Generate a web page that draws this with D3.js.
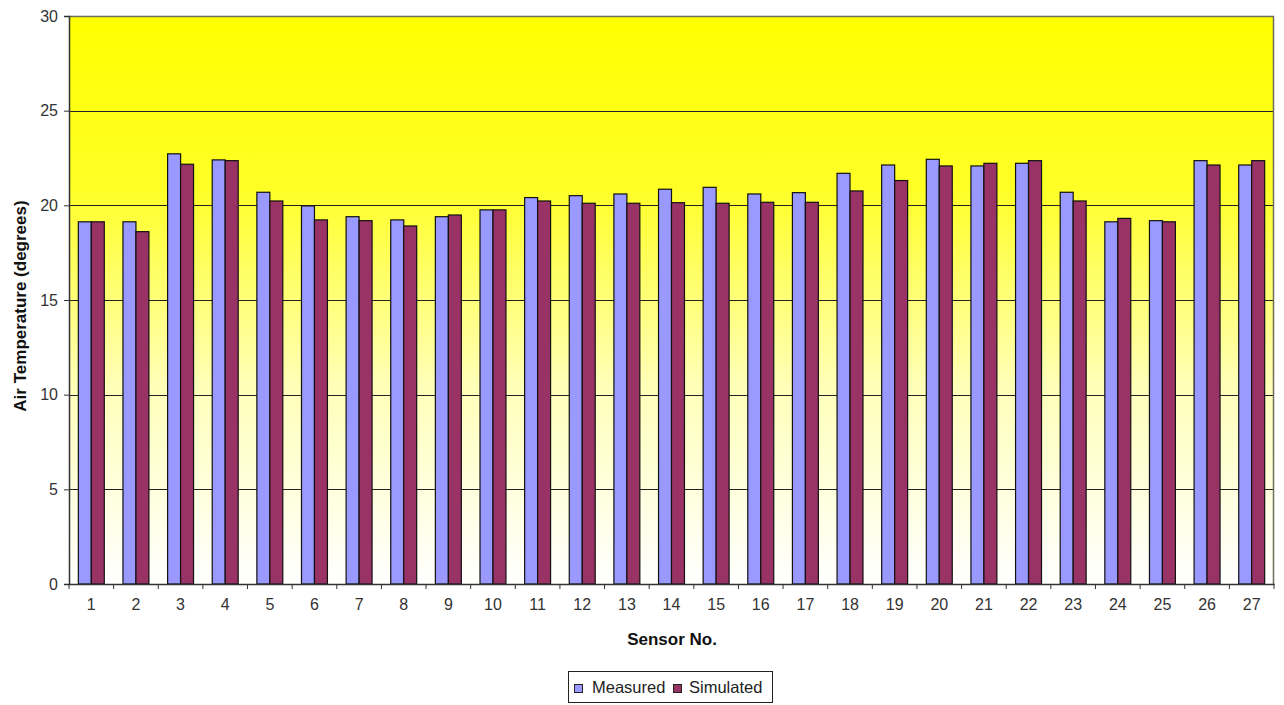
<!DOCTYPE html>
<html>
<head>
<meta charset="utf-8">
<script src="https://cdn.jsdelivr.net/npm/d3@7"></script>
<style>
  html, body { margin: 0; padding: 0; background: #ffffff; }
  svg { display: block; font-family: "Liberation Sans", Arial, sans-serif; }
</style>
</head>
<body>
<svg id="chart" width="1284" height="705"></svg>
<script>
// Sensor numbers along the x axis
const sensors = d3.range(1, 28).map(String);

// Air temperature per sensor (degrees)
const measured = [19.13, 19.13, 22.72, 22.40, 20.69, 19.97, 19.40, 19.23, 19.40,
                  19.76, 20.41, 20.51, 20.60, 20.85, 20.95, 20.60, 20.67, 21.69,
                  22.13, 22.43, 22.08, 22.22, 20.69, 19.13, 19.19, 22.36, 22.13];
const simulated = [19.13, 18.61, 22.17, 22.36, 20.23, 19.23, 19.19, 18.91, 19.49,
                   19.76, 20.23, 20.11, 20.11, 20.14, 20.11, 20.16, 20.16, 20.76,
                   21.31, 22.08, 22.22, 22.36, 20.23, 19.31, 19.13, 22.13, 22.36];

const seriesNames = ["Measured", "Simulated"];
const seriesColors = ["#9999ff", "#993366"];
const yTicks = [0, 5, 10, 15, 20, 25, 30];

const plot = { left: 69, right: 1274, top: 16, bottom: 584 };
const fontFamily = "'Liberation Sans', Arial, sans-serif";

const svg = d3.select("#chart");

// Plot-area fill: yellow at the top fading to white at the bottom
const defs = svg.append("defs");
const grad = defs.append("linearGradient")
  .attr("id", "plotFill").attr("x1", 0).attr("y1", 0).attr("x2", 0).attr("y2", 1);
grad.append("stop").attr("offset", "0%").attr("stop-color", "#ffff00");
grad.append("stop").attr("offset", "30%").attr("stop-color", "#ffff26");
grad.append("stop").attr("offset", "65%").attr("stop-color", "#ffffb8");
grad.append("stop").attr("offset", "100%").attr("stop-color", "#ffffff");

const x = d3.scaleBand().domain(sensors).range([plot.left, plot.right]).padding(0);
const xs = d3.scaleBand().domain(seriesNames).range([0, x.bandwidth()])
  .paddingInner(0).paddingOuter(0.72);
const y = d3.scaleLinear().domain([0, 30]).range([plot.bottom, plot.top]);

svg.append("rect")
  .attr("x", plot.left).attr("y", plot.top)
  .attr("width", plot.right - plot.left).attr("height", plot.bottom - plot.top)
  .attr("fill", "url(#plotFill)");

// Horizontal gridlines
svg.append("g")
  .selectAll("line")
  .data(yTicks.filter(d => d > 0 && d < 30))
  .join("line")
  .attr("x1", plot.left).attr("x2", plot.right)
  .attr("y1", d => Math.round(y(d)) + 0.5).attr("y2", d => Math.round(y(d)) + 0.5)
  .attr("stroke", "#222").attr("stroke-width", 1.2);

// Bars
const rows = sensors.map((s, i) => ({ sensor: s, values: [measured[i], simulated[i]] }));
svg.append("g")
  .selectAll("g")
  .data(rows)
  .join("g")
  .attr("transform", d => `translate(${x(d.sensor)},0)`)
  .selectAll("rect")
  .data(d => d.values.map((v, k) => ({ name: seriesNames[k], value: v, k })))
  .join("rect")
  .attr("x", d => xs(d.name))
  .attr("y", d => y(d.value))
  .attr("width", xs.bandwidth())
  .attr("height", d => y(0) - y(d.value))
  .attr("fill", d => seriesColors[d.k])
  .attr("stroke", "#111")
  .attr("stroke-width", 1.2);

// Plot-area frame (top and right)
svg.append("path")
  .attr("d", `M${plot.left},${plot.top + 0.5}H${plot.right - 0.5}V${plot.bottom}`)
  .attr("fill", "none").attr("stroke", "#6e6e5a").attr("stroke-width", 1.5);

// Y axis
const yAxis = d3.axisLeft(y).tickValues(yTicks).tickSize(5).tickPadding(6);
const gy = svg.append("g").attr("transform", `translate(${plot.left},0)`).call(yAxis);
gy.select(".domain").attr("stroke", "#333").attr("stroke-width", 1.5);
gy.selectAll(".tick line").attr("stroke", "#333");
gy.selectAll(".tick text").attr("font-size", 16).attr("fill", "#333")
  .attr("font-family", fontFamily);

// X axis with ticks between categories
const xAxis = d3.axisBottom(x).tickSize(0).tickPadding(15);
const gx = svg.append("g").attr("transform", `translate(0,${plot.bottom})`).call(xAxis);
gx.select(".domain").attr("stroke", "#333").attr("stroke-width", 1.5);
gx.selectAll(".tick text").attr("font-size", 16).attr("fill", "#333")
  .attr("font-family", fontFamily);
gx.append("g").selectAll("line")
  .data(sensors.concat(["end"]))
  .join("line")
  .attr("x1", (d, i) => i < sensors.length ? x(d) : plot.right)
  .attr("x2", (d, i) => i < sensors.length ? x(d) : plot.right)
  .attr("y1", 0).attr("y2", 5)
  .attr("stroke", "#333");

// Axis titles
svg.append("text")
  .attr("transform", `translate(26,${(plot.top + plot.bottom) / 2 + 6}) rotate(-90)`)
  .attr("text-anchor", "middle")
  .attr("font-size", 17).attr("font-weight", "bold").attr("fill", "#111")
  .text("Air Temperature (degrees)");

svg.append("text")
  .attr("x", 672).attr("y", 645)
  .attr("text-anchor", "middle")
  .attr("font-size", 17).attr("font-weight", "bold").attr("fill", "#111")
  .text("Sensor No.");

// Legend
const legend = svg.append("g");
legend.append("rect")
  .attr("x", 568.5).attr("y", 671.5).attr("width", 204).attr("height", 31)
  .attr("fill", "#fff").attr("stroke", "#222").attr("stroke-width", 1);
const legendItems = [
  { name: seriesNames[0], color: seriesColors[0], sx: 574, tx: 592 },
  { name: seriesNames[1], color: seriesColors[1], sx: 673, tx: 689 }
];
legend.selectAll("rect.sw")
  .data(legendItems).join("rect").attr("class", "sw")
  .attr("x", d => d.sx + 0.5).attr("y", 684.5).attr("width", 8).attr("height", 8)
  .attr("fill", d => d.color).attr("stroke", "#222");
legend.selectAll("text")
  .data(legendItems).join("text")
  .attr("x", d => d.tx).attr("y", 693)
  .attr("font-size", 16.5).attr("fill", "#222")
  .text(d => d.name);
</script>
</body>
</html>
